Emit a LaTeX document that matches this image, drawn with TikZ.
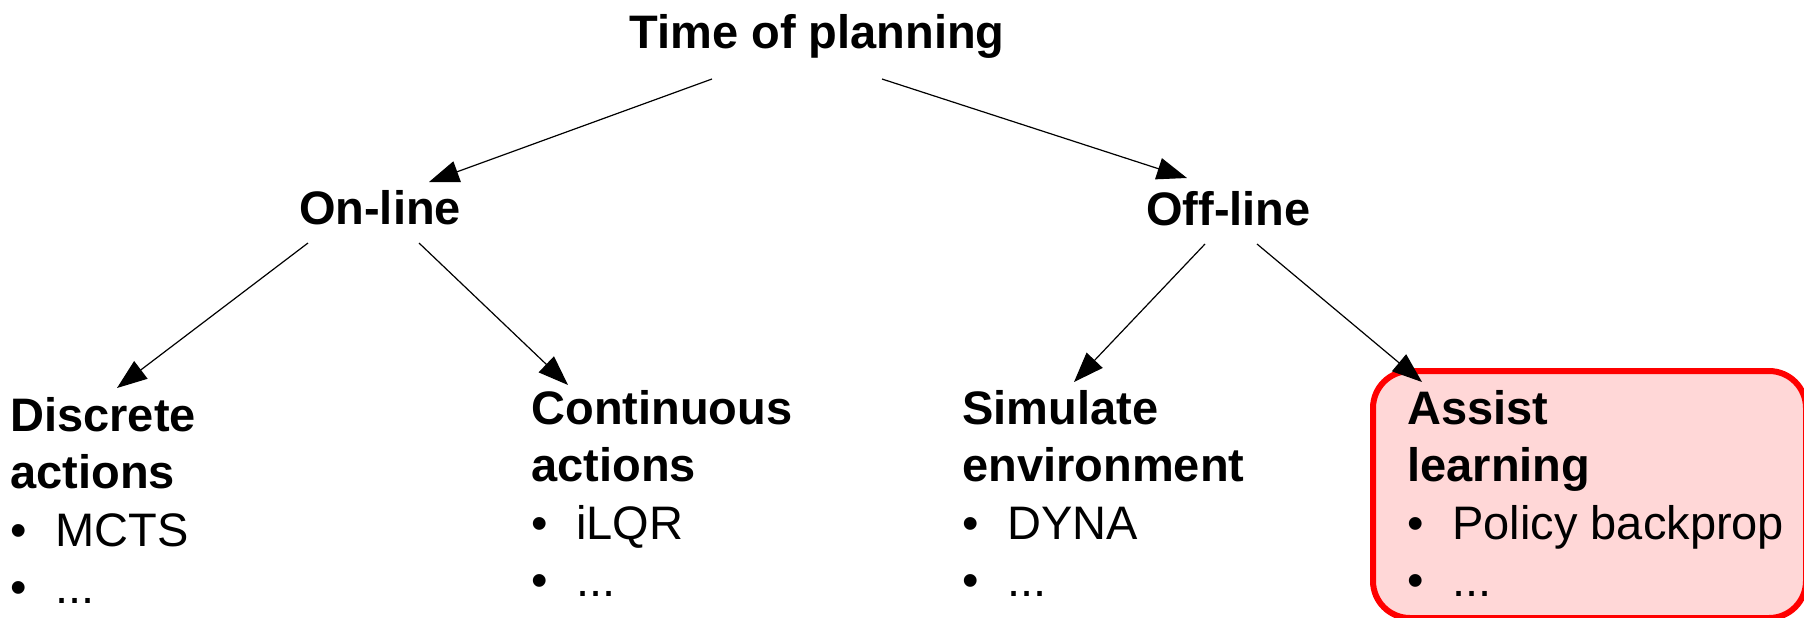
\documentclass[tikz,border=0pt]{standalone}
\usepackage{fontspec}
\setmainfont{Liberation Sans}
\usetikzlibrary{arrows.meta,calc}
\definecolor{boxred}{HTML}{FF0000}
\definecolor{boxpink}{HTML}{FFD7D7}
\newcommand{\bitem}[1]{\makebox[22.5pt][l]{\textbullet}#1}
\begin{document}
\begin{tikzpicture}[x=0.5pt,y=-0.5pt,
  lbl/.style={inner sep=0pt, font=\fontsize{23.5}{28.75}\selectfont},
  hd/.style={inner sep=0pt, font=\fontsize{23.5}{28.75}\selectfont\bfseries},
  blk/.style={lbl, anchor=north west, align=left},
  arr/.style={-{Triangle[length=15pt,width=11pt]}, line width=0.6pt},
  assistbg/.style={draw=boxred, fill=boxpink, line width=3pt, rounded corners=18.5pt,
    minimum width=216.5pt, minimum height=123.5pt, inner sep=0pt, anchor=north west}]
\useasboundingbox (0,0) rectangle (1804,617);
\begin{scope}
\clip (0,0) rectangle (1804,617);
\node[assistbg] (assistbox) at (1370,368) {};
\end{scope}
\node[hd, anchor=base] (title) at (817,48) {Time of planning};
\node[hd, anchor=base] (on) at (380,224) {On-line};
\node[hd, anchor=base] (off) at (1228.5,225) {Off-line};
\node[blk] (disc) at (10,390.75) {\strut\textbf{Discrete}\\\textbf{actions}\\\bitem{MCTS}\\\bitem{...}};
\node[blk] (cont) at (531,383.75) {\strut\textbf{Continuous}\\\textbf{actions}\\\bitem{iLQR}\\\bitem{...}};
\node[blk] (sim) at (962,383.75) {\strut\textbf{Simulate}\\\textbf{environment}\\\bitem{DYNA}\\\bitem{...}};
\node[blk] (assist) at (1407,383.75) {\strut\textbf{Assist}\\\textbf{learning}\\\bitem{Policy backprop}\\\bitem{...}};
\draw[arr] ($(title.base)+(-105,31)$) -- ($(on.base)+(49,-42)$);
\draw[arr] ($(title.base)+(65,31)$) -- ($(off.base)+(-41.5,-47)$);
\draw[arr] ($(on.base)+(-72,19)$) -- ($(disc.north west)+(107,-2.75)$);
\draw[arr] ($(on.base)+(39,19)$) -- ($(cont.north west)+(37,1.25)$);
\draw[arr] ($(off.base)+(-23.5,19)$) -- ($(sim.north west)+(112,-1.75)$);
\draw[arr] ($(off.base)+(28.5,19)$) -- ($(assistbox.north west)+(52,14)$);
\end{tikzpicture}
\end{document}
